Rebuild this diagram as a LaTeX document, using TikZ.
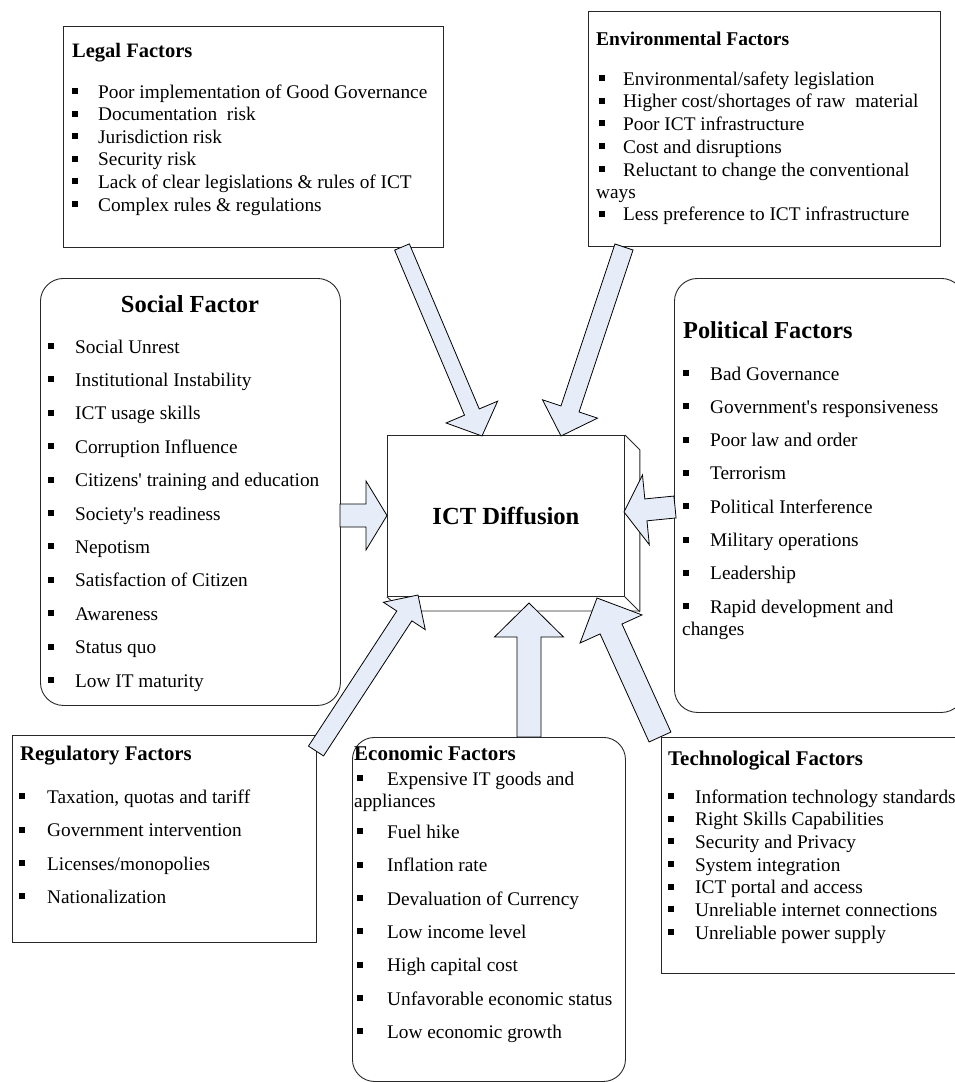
\documentclass[tikz,border=0pt]{standalone}
\usepackage{fontspec}
\setmainfont{Liberation Serif}
\usetikzlibrary{calc}
\definecolor{arrfill}{RGB}{230,237,248}
\definecolor{edge}{RGB}{40,40,40}
\newcommand\bodyfont{\fontsize{19.3}{23}\selectfont}
\newcommand\ttlfont[1]{\bfseries\fontsize{#1}{#1}\selectfont}
\newcommand\bitem[5]{\node[bul] (#1b) at ({#2+3},{#4-7}) {}; \node[txt] (#1) at (#3,#4) {#5};}
\newcommand\pline[4]{\node[txt] (#1) at (#2,#3) {#4};}
\newcommand\blockarrow[5]{%
  \coordinate (#1h) at ($(#2)!#5pt!(#1)$);
  \draw[blk] ($(#1)!#3pt!90:(#2)$) -- ($(#1h)!#3pt!90:(#2)$) -- ($(#1h)!#4pt!90:(#2)$) -- (#2)
     -- ($(#1h)!#4pt!-90:(#2)$) -- ($(#1h)!#3pt!-90:(#2)$) -- ($(#1)!#3pt!-90:(#2)$) -- cycle;}
\tikzset{
  txt/.style={anchor=base west, inner sep=0pt, font=\bodyfont},
  bul/.style={fill=black, draw=none, minimum size=6pt, inner sep=0pt},
  sqbox/.style={draw=edge, line width=0.9pt, anchor=north west, inner sep=0pt},
  rbox/.style={sqbox, rounded corners=23pt},
  blk/.style={draw=black, line width=0.8pt, fill=arrfill, line join=miter},
}
\begin{document}
\begin{tikzpicture}[x=1pt,y=-1pt]
\useasboundingbox (0,0) rectangle (955,1082);
\clip (0,0) rectangle (955,1082);

% ---- boxes ----
\node[sqbox, minimum width=380pt, minimum height=221pt] (legal) at (63,26) {};
\node[sqbox, minimum width=352pt, minimum height=235pt] (env) at (588,11) {};
\node[rbox, minimum width=300pt, minimum height=427pt] (social) at (40,278) {};
\node[rbox, minimum width=290pt, minimum height=434pt] (political) at (674,278) {};
\node[sqbox, minimum width=304pt, minimum height=207pt] (reg) at (12,735) {};
\node[rbox, rounded corners=22pt, minimum width=273pt, minimum height=344pt] (eco) at (352,737) {};
\node[sqbox, minimum width=302pt, minimum height=236pt] (tech) at (661,737) {};

% ---- central box ----
\node[sqbox, minimum width=237pt, minimum height=161pt, font=\ttlfont{24.6}, anchor=north west] (ict) at (387,435) {ICT Diffusion};
\draw[draw=edge, line width=0.9pt, line join=miter] (ict.north east) -- ++(15,15) -- ++(0,161) -- ++(-237,0) -- (ict.south west);
\draw[draw=edge, line width=0.9pt] (ict.south east) -- ++(15,15);

% ---- Legal ----
\node[anchor=base west, inner sep=0pt, font=\ttlfont{20.5}] (legT) at (72,57) {Legal Factors};
\bitem{leg1}{72}{98}{98}{Poor implementation of Good Governance}
\bitem{leg2}{72}{98}{120.6}{Documentation\ \ risk}
\bitem{leg3}{72}{98}{143.2}{Jurisdiction risk}
\bitem{leg4}{72}{98}{165.8}{Security risk}
\bitem{leg5}{72}{98}{188.4}{Lack of clear legislations \& rules of ICT}
\bitem{leg6}{72}{98}{211}{Complex rules \& regulations}

% ---- Environmental ----
\node[anchor=base west, inner sep=0pt, font=\ttlfont{19.5}] (envT) at (596,45) {Environmental Factors};
\bitem{env1}{599}{623}{85}{Environmental/safety legislation}
\bitem{env2}{599}{623}{107.5}{Higher cost/shortages of raw\ \ material}
\bitem{env3}{599}{623}{130}{Poor ICT infrastructure}
\bitem{env4}{599}{623}{153}{Cost and disruptions}
\bitem{env5}{599}{623}{176}{Reluctant to change the conventional}
\pline{env5b}{596}{198}{ways}
\bitem{env6}{599}{623}{220.5}{Less preference to ICT infrastructure}

% ---- Social ----
\node[anchor=base, inner sep=0pt, font=\ttlfont{24.5}] (socT) at (190,312) {Social Factor};
\bitem{soc1}{48}{75}{353}{Social Unrest}
\bitem{soc2}{48}{75}{386.4}{Institutional Instability}
\bitem{soc3}{48}{75}{419.8}{ICT usage skills}
\bitem{soc4}{48}{75}{453.2}{Corruption Influence}
\bitem{soc5}{48}{75}{486.6}{Citizens\textquotesingle\ training and education}
\bitem{soc6}{48}{75}{520}{Society\textquotesingle s readiness}
\bitem{soc7}{48}{75}{553.4}{Nepotism}
\bitem{soc8}{48}{75}{586.8}{Satisfaction of Citizen}
\bitem{soc9}{48}{75}{620.2}{Awareness}
\bitem{soc10}{48}{75}{653.6}{Status quo}
\bitem{soc11}{48}{75}{687}{Low IT maturity}

% ---- Political ----
\node[anchor=base west, inner sep=0pt, font=\ttlfont{24.3}] (polT) at (683,338) {Political Factors};
\bitem{pol1}{683}{710}{380}{Bad Governance}
\bitem{pol2}{683}{710}{413.3}{Government\textquotesingle s responsiveness}
\bitem{pol3}{683}{710}{446.6}{Poor law and order}
\bitem{pol4}{683}{710}{479.9}{Terrorism}
\bitem{pol5}{683}{710}{513.2}{Political Interference}
\bitem{pol6}{683}{710}{546.5}{Military operations}
\bitem{pol7}{683}{710}{579.8}{Leadership}
\bitem{pol8}{683}{710}{613}{Rapid development and}
\pline{pol8b}{682}{635}{changes}

% ---- Regulatory ----
\node[anchor=base west, inner sep=0pt, font=\ttlfont{20.8}] (regT) at (20,760) {Regulatory Factors};
\bitem{reg1}{19}{47}{803}{Taxation, quotas and tariff}
\bitem{reg2}{19}{47}{836.5}{Government intervention}
\bitem{reg3}{19}{47}{870}{Licenses/monopolies}
\bitem{reg4}{19}{47}{903}{Nationalization}

% ---- Economic ----
\node[anchor=base west, inner sep=0pt, font=\ttlfont{21}] (ecoT) at (354,760) {Economic Factors};
\bitem{eco1}{357}{387}{785}{Expensive IT goods and}
\pline{eco1b}{354}{807}{appliances}
\bitem{eco2}{357}{387}{838}{Fuel hike}
\bitem{eco3}{357}{387}{871.5}{Inflation rate}
\bitem{eco4}{357}{387}{905}{Devaluation of Currency}
\bitem{eco5}{357}{387}{938}{Low income level}
\bitem{eco6}{357}{387}{971.5}{High capital cost}
\bitem{eco7}{357}{387}{1005}{Unfavorable economic status}
\bitem{eco8}{357}{387}{1038}{Low economic growth}

% ---- Technological ----
\node[anchor=base west, inner sep=0pt, font=\ttlfont{20.9}] (tecT) at (668,765) {Technological Factors};
\bitem{tec1}{668}{695}{803}{Information technology standards}
\bitem{tec2}{668}{695}{825.7}{Right Skills Capabilities}
\bitem{tec3}{668}{695}{848.3}{Security and Privacy}
\bitem{tec4}{668}{695}{871}{System integration}
\bitem{tec5}{668}{695}{893.7}{ICT portal and access}
\bitem{tec6}{668}{695}{916.3}{Unreliable internet connections}
\bitem{tec7}{668}{695}{939}{Unreliable power supply}

% ---- block arrows ----
\coordinate (legA) at (402,247);   \coordinate (legB) at (482,436);
\coordinate (envA) at (624,247);   \coordinate (envB) at (561,436);
\coordinate (socA) at (340,515.5); \coordinate (socB) at (387,515.5);
\coordinate (polA) at (675,507);   \coordinate (polB) at (624,512);
\coordinate (regA) at (316,751);   \coordinate (regB) at (418,595);
\coordinate (ecoA) at (529,737);   \coordinate (ecoB) at (529,603);
\coordinate (tecA) at (660,737);   \coordinate (tecB) at (597,598);
\blockarrow{legA}{legB}{8}{28}{26}
\blockarrow{envA}{envB}{9.5}{29}{28.5}
\blockarrow{socA}{socB}{11.5}{34.5}{21}
\blockarrow{polA}{polB}{11}{35}{22}
\blockarrow{regA}{regB}{9}{25}{25}
\blockarrow{ecoA}{ecoB}{12}{34.5}{34}
\blockarrow{tecA}{tecB}{12}{34}{34}
\end{tikzpicture}
\end{document}
